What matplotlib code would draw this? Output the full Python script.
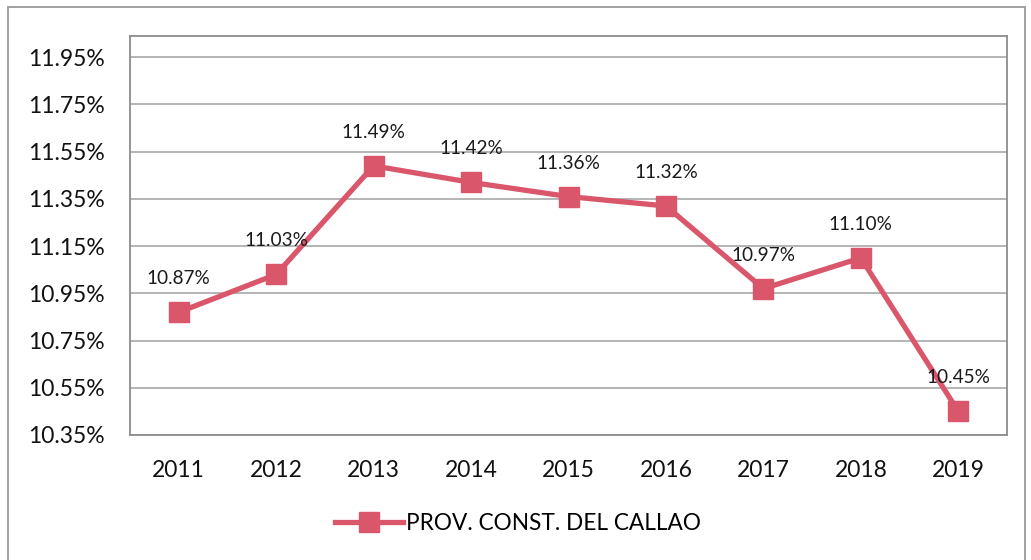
import matplotlib
matplotlib.use("Agg")
import matplotlib.pyplot as plt
from matplotlib.patches import Rectangle
from matplotlib.ticker import FuncFormatter

years = ["2011", "2012", "2013", "2014", "2015", "2016", "2017", "2018", "2019"]
values = [10.87, 11.03, 11.49, 11.42, 11.36, 11.32, 10.97, 11.10, 10.45]
series_name = "PROV. CONST. DEL CALLAO"

W, H = 1031, 560
fig = plt.figure(figsize=(W / 100, H / 100), dpi=100)
plt.rcParams["font.family"] = ["Lato", "DejaVu Sans"]

# outer chart frame
fig.patches.append(Rectangle((8 / W, -0.01), (1025 - 8) / W, 1 - 7 / H + 0.01,
                             transform=fig.transFigure, fill=False,
                             edgecolor="#9a9a9a", linewidth=1.3))

ax = fig.add_axes([130 / W, 1 - 435 / H, (1007 - 130) / W, (435 - 36) / H])

color = "#d9566b"
x = range(len(years))
ax.plot(x, values, color=color, linewidth=3.8, marker="s", markersize=14.5,
        markerfacecolor=color, markeredgecolor=color, label=series_name,
        zorder=3)

for i, v in enumerate(values):
    ax.annotate(f"{v:.2f}%", (i, v), xytext=(0, 18), textcoords="offset points",
                ha="center", va="bottom", fontsize=13.7, color="#1a1a1a")

ax.set_xlim(-0.5, len(years) - 0.5)
ax.set_ylim(10.35, 12.04)
ax.set_yticks([10.35 + 0.2 * k for k in range(9)])
ax.yaxis.set_major_formatter(FuncFormatter(lambda v, p: f"{v:.2f}%"))
ax.set_xticks(list(x))
ax.set_xticklabels(years)
ax.tick_params(axis="both", length=0, labelsize=16.5, colors="#111111")
ax.tick_params(axis="y", pad=18)
ax.tick_params(axis="x", pad=18)
ax.grid(axis="y", color="#a8a8a8", linewidth=1.2)
ax.set_axisbelow(True)
for s in ax.spines.values():
    s.set_color("#8c8c8c")
    s.set_linewidth(1.3)

fig.legend(loc="center", bbox_to_anchor=(518 / W, 1 - 523 / H), frameon=False,
           fontsize=16.3, handlelength=3.0, handletextpad=0.1,
           markerscale=1.0)

fig.savefig("out.png", dpi=100)
